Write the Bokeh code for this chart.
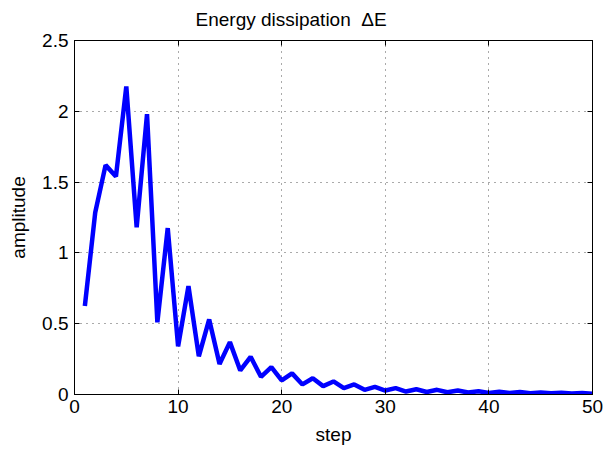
from bokeh.plotting import figure
from bokeh.models import Range1d, FixedTicker, LinearAxis, ColumnDataSource, CustomLabelingPolicy
from bokeh.embed import file_html
from bokeh.resources import INLINE

# ---- data ----
steps = list(range(1, 51))
amplitude = [0.625, 1.285, 1.62, 1.54, 2.175, 1.18, 1.98, 0.51, 1.175, 0.34,
             0.765, 0.27, 0.53, 0.215, 0.37, 0.17, 0.266, 0.125, 0.193, 0.099,
             0.149, 0.071, 0.115, 0.059, 0.092, 0.045, 0.071, 0.033, 0.054, 0.028,
             0.045, 0.021, 0.037, 0.018, 0.033, 0.016, 0.028, 0.014, 0.023, 0.011,
             0.02, 0.01, 0.017, 0.009, 0.014, 0.008, 0.012, 0.007, 0.01, 0.006]
x_ticks = [0, 10, 20, 30, 40, 50]
y_ticks = [0, 0.5, 1, 1.5, 2, 2.5]
y_tick_labels = ["0", "0.5", "1", "1.5", "2", "2.5"]
title_text = "Energy dissipation \u00a0\u0394E"
x_label = "step"
y_label = "amplitude"

FONT = "Liberation Sans"
FS = "19px"

p = figure(width=604, height=450, output_backend="svg", toolbar_location=None,
           x_range=Range1d(0, 50), y_range=Range1d(0, 2.5),
           min_border_left=74, min_border_right=12, min_border_top=40,
           min_border_bottom=56, title=title_text)

p.title.align = "left"
p.title.offset = 121
p.title.standoff = 10
p.title.vertical_align = "top"
p.title.text_font = FONT
p.title.text_font_size = FS
p.title.text_font_style = "normal"
p.title.text_color = "black"

src = ColumnDataSource(dict(x=steps, y=amplitude))
p.line("x", "y", source=src, line_color="#0000FF", line_width=4.5)

p.outline_line_color = "black"
p.outline_line_width = 1
p.outline_line_alpha = 1

p.xaxis.ticker = FixedTicker(ticks=x_ticks)
p.yaxis.ticker = FixedTicker(ticks=y_ticks)
p.yaxis.major_label_overrides = {v: s for v, s in zip(y_ticks, y_tick_labels)}

for ax in p.xaxis + p.yaxis:
    ax.major_tick_in = 5
    ax.major_tick_out = 0
    ax.minor_tick_in = 0
    ax.minor_tick_out = 0
    ax.axis_line_color = "black"
    ax.major_tick_line_color = "black"
    ax.major_label_text_font = FONT
    ax.major_label_text_font_size = FS
    ax.major_label_text_color = "black"
    ax.axis_label_text_font = FONT
    ax.axis_label_text_font_size = FS
    ax.axis_label_text_font_style = "normal"
    ax.axis_label_text_color = "black"

p.xaxis.axis_label = x_label
p.yaxis.axis_label = y_label
p.xaxis.major_label_standoff = 5
p.yaxis.major_label_standoff = 6
p.xaxis.axis_label_standoff = 8
p.yaxis.axis_label_standoff = 10

no_labels = CustomLabelingPolicy(code="""
    for (const i of indices) { indices.unset(i) }
    return indices
""")
top = LinearAxis(ticker=FixedTicker(ticks=x_ticks), major_label_policy=no_labels,
                 major_label_text_font_size="1px",
                 major_tick_in=5, major_tick_out=0, minor_tick_in=0, minor_tick_out=0,
                 major_label_standoff=0)
no_labels2 = CustomLabelingPolicy(code="""
    for (const i of indices) { indices.unset(i) }
    return indices
""")
right = LinearAxis(ticker=FixedTicker(ticks=y_ticks), major_label_policy=no_labels2,
                   major_label_text_font_size="1px",
                   major_tick_in=5, major_tick_out=0, minor_tick_in=0, minor_tick_out=0,
                   major_label_standoff=0)
p.add_layout(top, "above")
p.add_layout(right, "right")

p.xgrid.ticker = FixedTicker(ticks=x_ticks)
p.ygrid.ticker = FixedTicker(ticks=y_ticks)
for g in p.xgrid + p.ygrid:
    g.grid_line_color = "#555555"
    g.grid_line_dash = "1 5"
    g.grid_line_width = 1

open("out.html", "w").write(file_html(p, INLINE))
